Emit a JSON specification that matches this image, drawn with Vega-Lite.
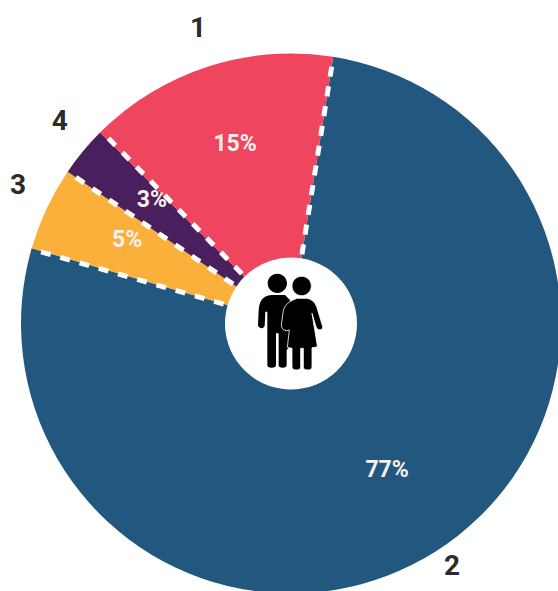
{
"$schema":"https://vega.github.io/schema/vega-lite/v6.json",
"width":558,"height":591,"padding":0,"autosize":{"type":"none"},
"background":"white",
"config":{"view":{"stroke":null}},
"layer":[
{"data":{"values":[
{"category":"2","pct":77,"start":0,"end":77,"cx":0,"cy":0},
{"category":"3","pct":5,"start":77,"end":82,"cx":0,"cy":0},
{"category":"4","pct":3,"start":82,"end":85,"cx":0,"cy":0},
{"category":"1","pct":15,"start":85,"end":100,"cx":0,"cy":0}]},
"mark":{"type":"arc","radius":270,"innerRadius":66},
"encoding":{
"x":{"field":"cx","type":"quantitative","scale":{"domain":[-1.0778,0.9889],"nice":false,"zero":false},"axis":null},
"y":{"field":"cy","type":"quantitative","scale":{"domain":[-0.9907,1.198],"nice":false,"zero":false},"axis":null},
"theta":{"field":"start","type":"quantitative","scale":{"domain":[0,100],"range":[0.157,6.44]}},
"theta2":{"field":"end"},
"color":{"field":"category","type":"nominal","legend":null,"scale":{"domain":["1","2","3","4"],"range":["#F0455E","#22587F","#FBB03B","#4A1F5E"]}}
}},
{"data":{"values":[
{"x":0.1564,"y":0.9877,"x2":0.0383,"y2":0.242},
{"x":-0.9613,"y":0.2756,"x2":-0.2355,"y2":0.0675},
{"x":-0.8271,"y":0.5621,"x2":-0.2026,"y2":0.1377},
{"x":-0.7022,"y":0.712,"x2":-0.172,"y2":0.1744}]},
"mark":{"type":"rule","color":"white","strokeWidth":5,"strokeDash":[10,10],"strokeDashOffset":10},
"encoding":{
"x":{"field":"x","type":"quantitative","scale":{"domain":[-1.0778,0.9889],"nice":false,"zero":false},"axis":null},
"y":{"field":"y","type":"quantitative","scale":{"domain":[-0.9907,1.198],"nice":false,"zero":false},"axis":null},
"x2":{"field":"x2"},"y2":{"field":"y2"}
}},
{"data":{"values":[
{"label":"15%","x":-0.207,"y":0.665},
{"label":"77%","x":0.356,"y":-0.543},
{"label":"5%","x":-0.607,"y":0.309},
{"label":"3%","x":-0.515,"y":0.457}]},
"mark":{"type":"text","font":"Roboto","fontWeight":"bold","fontSize":23,"color":"#F5F2EE","align":"center","baseline":"middle"},
"encoding":{
"x":{"field":"x","type":"quantitative","scale":{"domain":[-1.0778,0.9889],"nice":false,"zero":false},"axis":null},
"y":{"field":"y","type":"quantitative","scale":{"domain":[-0.9907,1.198],"nice":false,"zero":false},"axis":null},
"text":{"field":"label"}
}},
{"data":{"values":[
{"label":"1","x":-0.344,"y":1.091},
{"label":"2","x":0.596,"y":-0.902},
{"label":"3","x":-1.011,"y":0.509},
{"label":"4","x":-0.856,"y":0.746}]},
"mark":{"type":"text","font":"Roboto","fontWeight":"bold","fontSize":28,"color":"#2B2B2B","align":"center","baseline":"middle"},
"encoding":{
"x":{"field":"x","type":"quantitative","scale":{"domain":[-1.0778,0.9889],"nice":false,"zero":false},"axis":null},
"y":{"field":"y","type":"quantitative","scale":{"domain":[-0.9907,1.198],"nice":false,"zero":false},"axis":null},
"text":{"field":"label"}
}},
{"data":{"values":[{"x":-0.3,"y":0.2722}]},
"mark":{"type":"point","filled":true,"opacity":1,"color":"black","size":0.4444,
"shape":"M173 100a29 29 0 1 0 58 0a29 29 0 1 0 -58 0ZM185 135L225 135L240 150L240 290L230 300L230 345Q230 353 218 353Q206 353 206 345L206 250L198 250L198 345Q198 353 185 353Q172 353 172 345L172 185L166 185L164 228Q160 236 153 235Q144 232 144 225L146 180Q148 150 165 140Q175 135 185 135Z"},
"encoding":{
"x":{"field":"x","type":"quantitative","scale":{"domain":[-1.0778,0.9889],"nice":false,"zero":false},"axis":null},
"y":{"field":"y","type":"quantitative","scale":{"domain":[-0.9907,1.198],"nice":false,"zero":false},"axis":null}
}},
{"data":{"values":[{"x":-0.3,"y":0.2722}]},
"mark":{"type":"point","filled":true,"opacity":1,"fill":"black","stroke":"white","strokeWidth":0.8,"size":0.4444,
"shape":"M246 108a29 29 0 1 0 58 0a29 29 0 1 0 -58 0ZM262 145L290 145Q310 147 320 170L338 230Q338 240 330 240Q322 240 318 230L306 190L322 288Q322 293 306 293L306 350Q306 360 293 360Q280 360 280 350L280 295L272 295L272 350Q272 360 259 360Q246 360 246 350L246 295L232 292L238 240Q230 245 222 240Q214 236 214 225L220 180Q228 155 262 145Z"},
"encoding":{
"x":{"field":"x","type":"quantitative","scale":{"domain":[-1.0778,0.9889],"nice":false,"zero":false},"axis":null},
"y":{"field":"y","type":"quantitative","scale":{"domain":[-0.9907,1.198],"nice":false,"zero":false},"axis":null}
}}
]}
